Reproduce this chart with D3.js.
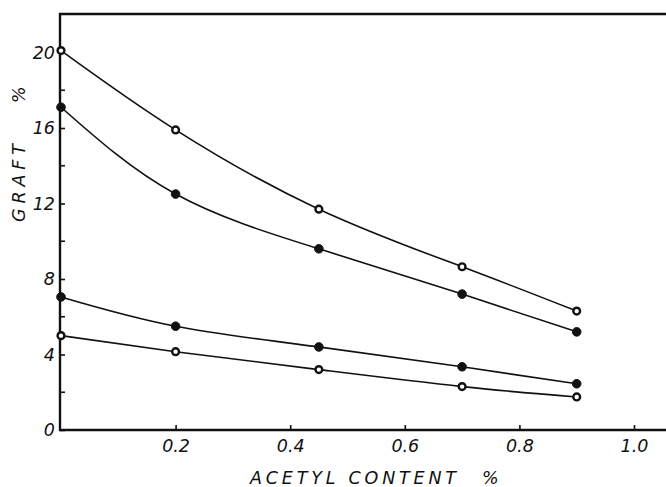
<!DOCTYPE html>
<html>
<head>
<meta charset="utf-8">
<script src="https://cdn.jsdelivr.net/npm/d3@7"></script>
<style>
  body { margin: 0; background: #fff; }
  svg { display: block; }
  .lbl { font-family: "DejaVu Sans", "Liberation Sans", sans-serif; font-style: italic; fill: #111; }
</style>
</head>
<body>
<svg id="chart" width="666" height="487"></svg>
<script>
// Grafting yield (%) against acetyl content (%), four series
const acetyl = [0, 0.2, 0.45, 0.7, 0.9];
const graftA = [20.1, 15.9, 11.7, 8.65, 6.3];
const graftB = [17.1, 12.5, 9.6, 7.2, 5.2];
const graftC = [7.05, 5.5, 4.4, 3.35, 2.45];
const graftD = [5.0, 4.15, 3.2, 2.3, 1.75];

const xTicks = [0.2, 0.4, 0.6, 0.8, 1.0];
const xTickLabels = ["0.2", "0.4", "0.6", "0.8", "1.0"];
const yTicks = [0, 4, 8, 12, 16, 20];
const yTickLabels = ["0", "4", "8", "12", "16", "20"];
const yMinorTicks = [2, 6, 10, 14, 18];

const xTitle = "ACETYL CONTENT";
const yTitle = "GRAFT";
const unit = "%";

const svg = d3.select("#chart");
const ink = "#111";
const fs = 17.5;

const x = d3.scaleLinear().domain([0, 1]).range([61, 634]);
const y = d3.scaleLinear().domain([0, 20]).range([430, 52.5]);
const frameTop = 14, frameRight = 666, axisX = 60;

// frame: left axis, top rule, bottom axis
svg.append("path")
  .attr("d", `M${frameRight},${frameTop}H${axisX}V${y(0)}H${frameRight}`)
  .attr("fill", "none").attr("stroke", ink).attr("stroke-width", 2.4);

// x ticks (pointing up) and labels
const xAxis = d3.axisBottom(x).tickValues(xTicks)
  .tickSizeInner(-5).tickSizeOuter(0).tickPadding(10)
  .tickFormat((d, i) => xTickLabels[i]);
const gx = svg.append("g").attr("transform", `translate(0,${y(0)})`).call(xAxis);
gx.select(".domain").remove();
gx.selectAll(".tick line").attr("stroke", ink).attr("stroke-width", 1.6);
gx.selectAll(".tick text").attr("class", "lbl").attr("font-size", fs).attr("fill", ink);

// y ticks (pointing right) and labels
const yAxis = d3.axisLeft(y).tickValues(yTicks)
  .tickSizeInner(-5).tickSizeOuter(0).tickPadding(5)
  .tickFormat((d, i) => yTickLabels[i]);
const gy = svg.append("g").attr("transform", `translate(${axisX},0)`).call(yAxis);
gy.select(".domain").remove();
gy.selectAll(".tick line").attr("stroke", ink).attr("stroke-width", 1.6);
gy.selectAll(".tick text").attr("class", "lbl").attr("font-size", fs).attr("fill", ink);

svg.append("g").selectAll("line").data(yMinorTicks).join("line")
  .attr("x1", axisX).attr("x2", axisX + 5)
  .attr("y1", d => y(d)).attr("y2", d => y(d))
  .attr("stroke", ink).attr("stroke-width", 1.6);

// axis titles
svg.append("text").attr("class", "lbl")
  .attr("x", 250).attr("y", 484).attr("font-size", fs)
  .attr("textLength", 206).attr("lengthAdjust", "spacing")
  .text(xTitle);
svg.append("text").attr("class", "lbl")
  .attr("x", 482).attr("y", 484).attr("font-size", fs)
  .text(unit);

svg.append("text").attr("class", "lbl")
  .attr("transform", "translate(25,222) rotate(-90)")
  .attr("font-size", fs)
  .attr("textLength", 78).attr("lengthAdjust", "spacing")
  .text(yTitle);
svg.append("text").attr("class", "lbl")
  .attr("transform", "translate(25,103) rotate(-90)")
  .attr("font-size", fs)
  .text(unit);

// curves and markers
const series = [
  { values: graftA, open: true },
  { values: graftB, open: false },
  { values: graftC, open: false },
  { values: graftD, open: true }
];

const line = d3.line()
  .x(d => x(d[0])).y(d => y(d[1]))
  .curve(d3.curveNatural);

series.forEach(s => {
  const pts = acetyl.map((a, i) => [a, s.values[i]]);
  svg.append("path").datum(pts)
    .attr("d", line)
    .attr("fill", "none").attr("stroke", ink).attr("stroke-width", 1.6);
  svg.append("g").selectAll("circle").data(pts).join("circle")
    .attr("cx", d => x(d[0])).attr("cy", d => y(d[1]))
    .attr("r", s.open ? 3.4 : 4.3)
    .attr("fill", s.open ? "#fff" : ink)
    .attr("stroke", ink).attr("stroke-width", s.open ? 2.4 : 1);
});
</script>
</body>
</html>
